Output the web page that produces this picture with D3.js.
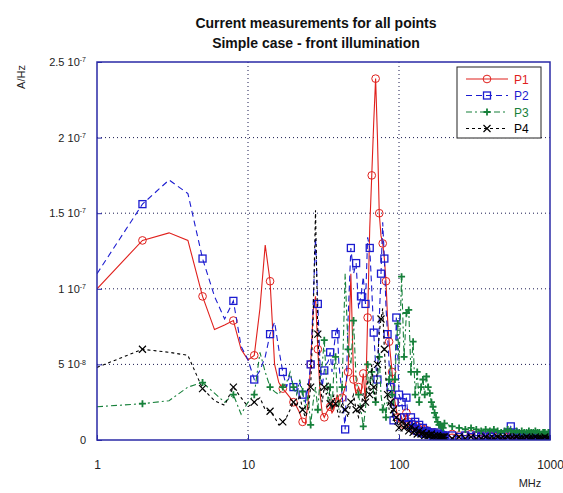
<!DOCTYPE html>
<html><head><meta charset="utf-8">
<script src="https://cdn.jsdelivr.net/npm/d3@7"></script>
<style>
html,body{margin:0;padding:0;background:#fff;}
svg text{font-family:Arial,"Liberation Sans",sans-serif;}
</style></head>
<body><svg id="c" width="563" height="493"></svg>
<script>
// Frequencies (MHz), shared by all series
const freq = [1,2,3,4,5,6,7,8,9,10,11,12,13,14,15,16,17,18,19,20,
  21,22,23,24,25,26,27,28,29,30,31,32,33,34,35,36,37,38,39,40,
  42,44,46,48,50,52,54,56,58,60,62,64,66,68,70,72,74,76,78,80,
  82,84,86,88,90,92,94,96,98,100,
  104,108,112,116,120,124,128,132,136,140,144,148,152,156,160,164,168,172,176,180,184,188,192,196,
  200,225,250,275,300,325,350,375,400,425,450,475,500,525,550,575,600,625,650,675,700,725,750,775,800,825,850,875,900,925,950,975,1000];

// Values in units of 1e-8 A/Hz
const p1 = [10.0,13.2,13.7,13.2,9.5,7.3,7.6,7.9,6.0,5.3,
  5.6,8.7,12.9,10.5,5.0,3.8,3.4,3.1,2.8,2.5,
  2.2,1.8,1.2,1.1,2.5,5.0,8.5,9.5,6.0,3.1,
  1.8,1.5,1.8,2.0,2.2,1.8,2.0,2.5,3.0,2.5,
  2.8,3.5,4.5,11.0,4.0,3.0,3.5,3.0,4.4,2.5,
  8.1,14.0,17.5,21.0,23.9,20.0,15.0,13.5,13.0,12.0,
  10.5,8.0,6.5,5.5,4.5,3.5,2.5,2.0,1.5,1.2,
  1.5,1.0,1.8,1.2,0.8,1.0,0.6,0.9,0.7,0.8,0.5,0.7,0.5,0.6,0.4,0.5,0.4,0.5,0.4,0.4,0.3,0.4,0.3,0.3,
  0.3,0.4,0.3,0.3,0.4,0.3,0.3,0.2,0.3,0.3,0.2,0.3,0.3,0.2,0.3,0.2,0.3,0.3,0.2,0.3,0.2,0.3,0.2,0.3,0.3,0.2,0.3,0.2,0.3,0.2,0.3,0.2,0.3];
const p2 = [11.0,15.6,17.2,16.3,12.0,9.5,8.0,9.2,6.2,5.3,
  4.0,4.6,5.5,7.0,7.8,6.0,4.5,3.5,4.4,3.5,
  3.0,3.8,3.0,2.5,3.5,5.0,9.0,13.4,9.0,5.0,
  3.5,4.6,5.0,5.2,5.8,4.5,6.0,7.0,7.5,5.0,
  3.0,0.7,8.0,12.7,11.0,11.7,8.7,9.5,10.8,9.0,
  13.4,12.7,10.0,7.1,5.0,4.0,8.0,11.0,14.4,12.0,
  8.8,7.0,5.0,3.5,2.0,1.3,4.0,8.1,6.0,3.0,
  2.5,1.5,2.8,1.0,1.5,0.8,1.2,0.6,1.0,0.5,0.8,0.4,0.6,0.5,0.4,0.5,0.3,0.4,0.3,0.5,0.3,0.4,0.3,0.3,
  0.3,0.3,0.2,0.3,0.2,0.3,0.2,0.3,0.2,0.3,0.3,0.2,0.3,0.5,0.9,0.5,0.3,0.2,0.3,0.2,0.3,0.2,0.2,0.3,0.2,0.2,0.3,0.2,0.2,0.3,0.2,0.2,0.3];
const p3 = [2.2,2.4,2.6,3.5,3.8,3.1,2.5,3.0,1.7,2.5,
  3.0,5.8,4.5,3.5,3.2,3.0,3.5,3.8,4.5,3.5,
  3.0,4.0,3.2,2.0,3.0,1.0,2.5,3.5,2.0,4.0,
  5.0,6.6,4.0,2.5,3.5,2.0,4.5,5.5,3.0,2.0,
  3.5,11.0,6.0,5.0,7.9,4.0,3.0,2.0,0.9,2.0,
  5.0,3.5,4.5,3.0,2.5,4.0,5.5,3.0,2.0,2.5,
  1.5,3.0,4.0,5.0,3.0,2.0,4.0,6.0,7.7,5.0,
  10.8,5.5,8.4,8.6,4.5,6.5,3.0,4.5,2.5,3.5,4.0,3.0,4.2,3.5,3.1,2.5,2.2,1.8,1.5,1.2,1.0,1.0,0.9,0.8,
  1.1,0.9,0.8,0.7,0.8,0.7,0.6,0.7,0.6,0.7,0.6,0.5,0.6,0.7,0.6,0.5,0.6,0.5,0.6,0.5,0.5,0.6,0.5,0.5,0.6,0.5,0.5,0.4,0.5,0.5,0.4,0.5,0.5];
const p4 = [4.8,6.0,5.8,5.6,3.4,2.6,2.3,3.5,2.8,2.2,
  2.5,2.8,2.0,1.9,1.5,1.0,1.2,1.5,2.0,2.5,
  2.2,3.0,2.0,1.5,2.0,3.5,8.0,15.2,7.0,3.8,
  2.5,3.5,3.0,3.8,2.4,2.0,3.0,2.4,2.0,1.5,
  2.5,2.0,1.5,2.5,3.0,2.0,1.5,2.1,3.1,2.5,
  4.0,3.0,5.0,3.5,2.5,5.0,7.1,8.0,8.7,6.0,
  4.0,3.0,2.0,2.5,1.5,2.0,1.0,1.5,1.0,0.8,
  1.2,0.8,1.0,0.6,0.9,0.5,0.7,0.4,0.6,0.4,0.5,0.3,0.4,0.3,0.3,0.4,0.2,0.3,0.2,0.3,0.2,0.2,0.2,0.2,
  0.2,0.1,0.2,0.1,0.2,0.1,0.1,0.2,0.1,0.1,0.2,0.1,0.1,0.2,0.1,0.1,0.2,0.1,0.1,0.1,0.2,0.1,0.1,0.1,0.2,0.1,0.1,0.1,0.1,0.2,0.1,0.1,0.1];

const seriesNames = ["P1","P2","P3","P4"];
const seriesValues = [p1,p2,p3,p4];
const xTicks = [1,10,100,1000];
const xTickLabels = ["1","10","100","1000"];
const yTicks = [0,5,10,15,20,25];
const yTickMantissa = ["0","5","1","1.5","2","2.5"];
const yTickExponent = ["","-8","-7","-7","-7","-7"];
const titleLines = ["Current measurements for all points","Simple case - front illumination"];

// styles
const colors = ["#e0201c","#1c1cd0","#16803a","#000000"];
const dashes = [null,"6,4","6,3,2,3","3,3"];
const markers = ["circle","square","plus","cross"];

const svg = d3.select("#c");
const L=97,R=550,T=62,B=440;
const x = d3.scaleLog().domain([1,1000]).range([L,R]);
const y = d3.scaleLinear().domain([0,25]).range([B,T]);
const frameColor = "#2a2aa6";

svg.append("rect").attr("width",563).attr("height",493).attr("fill","#fff");

// grid
const grid = svg.append("g");
grid.selectAll("line.gx").data(xTicks.slice(1,-1)).join("line")
  .attr("x1",d=>x(d)).attr("x2",d=>x(d)).attr("y1",T).attr("y2",B)
  .attr("stroke","#1a1a50").attr("stroke-width",1).attr("stroke-dasharray","1,3");
grid.selectAll("line.gy").data(yTicks.slice(1,-1)).join("line")
  .attr("y1",d=>y(d)).attr("y2",d=>y(d)).attr("x1",L).attr("x2",R)
  .attr("stroke","#1a1a50").attr("stroke-width",1).attr("stroke-dasharray","1,3");

svg.append("defs").append("clipPath").attr("id","clip").append("rect")
  .attr("x",L).attr("y",T).attr("width",R-L).attr("height",B-T);

function drawMarker(g, type, cx, cy, color, s){
  if(type==="circle"){
    g.append("circle").attr("cx",cx).attr("cy",cy).attr("r",s*0.55).attr("fill","none").attr("stroke",color).attr("stroke-width",1);
  } else if(type==="square"){
    g.append("rect").attr("x",cx-s/2).attr("y",cy-s/2).attr("width",s).attr("height",s).attr("fill","none").attr("stroke",color).attr("stroke-width",1.3);
  } else if(type==="plus"){
    g.append("path").attr("d",`M${cx-s/2},${cy}H${cx+s/2}M${cx},${cy-s/2}V${cy+s/2}`).attr("stroke",color).attr("stroke-width",1.8).attr("fill","none");
  } else {
    g.append("path").attr("d",`M${cx-s/2},${cy-s/2}L${cx+s/2},${cy+s/2}M${cx-s/2},${cy+s/2}L${cx+s/2},${cy-s/2}`).attr("stroke",color).attr("stroke-width",1.2).attr("fill","none");
  }
}

const plot = svg.append("g").attr("clip-path","url(#clip)");
const line = d3.line().x(d=>x(d[0])).y(d=>y(d[1]));
seriesValues.forEach((vals,k)=>{
  const pts = freq.map((f,i)=>[f,vals[i]]);
  const g = plot.append("g");
  g.append("path").attr("d",line(pts)).attr("fill","none")
    .attr("stroke",colors[k]).attr("stroke-width",1.1)
    .attr("stroke-dasharray",dashes[k]);
  pts.forEach((p,i)=>{
    const f=p[0];
    let show;
    if(f<=40) show = (i%3===1);
    else if(f<=100) show = ((i+k)%2===0);
    else show = true;
    if(show) drawMarker(g, markers[k], x(p[0]), y(p[1]), colors[k], 7);
  });
});

// axes
const yAxis = d3.axisLeft(y).tickValues(yTicks).tickSizeInner(-5).tickSizeOuter(0).tickPadding(11);
const gy = svg.append("g").attr("transform",`translate(${L},0)`).call(yAxis);
gy.selectAll(".tick line").attr("stroke",frameColor);
gy.select(".domain").attr("stroke","none");
gy.selectAll(".tick text").attr("font-size","11px").attr("fill","#222").each(function(d,i){
  const t=d3.select(this); t.text(null);
  t.append("tspan").text(yTickMantissa[i] + (yTickExponent[i] ? " 10" : ""));
  if(yTickExponent[i]) t.append("tspan").attr("dy","-0.55em").attr("font-size","7px").text(yTickExponent[i]);
});
const xAxis = d3.axisBottom(x).tickValues(xTicks).tickFormat((d,i)=>xTickLabels[i]).tickSizeInner(-5).tickSizeOuter(0).tickPadding(20);
const gx = svg.append("g").attr("transform",`translate(0,${B})`).call(xAxis);
gx.selectAll(".tick line").attr("stroke",frameColor);
gx.select(".domain").attr("stroke","none");
gx.selectAll(".tick text").attr("font-size","12px").attr("fill","#222");

// frame
svg.append("rect").attr("x",L).attr("y",T).attr("width",R-L).attr("height",B-T)
  .attr("fill","none").attr("stroke",frameColor).attr("stroke-width",1.5);

// titles
svg.selectAll("text.title").data(titleLines).join("text").attr("class","title")
  .attr("x",316).attr("y",(d,i)=>28+i*20).attr("text-anchor","middle")
  .attr("font-size","14px").attr("font-weight","bold").attr("fill","#111").text(d=>d);
svg.append("text").attr("transform","translate(25,77) rotate(-90)").attr("text-anchor","middle")
  .attr("font-size","11px").attr("fill","#222").text("A/Hz");
svg.append("text").attr("x",530).attr("y",487).attr("text-anchor","middle")
  .attr("font-size","11px").attr("fill","#222").text("MHz");

// legend
const lg = svg.append("g");
lg.append("rect").attr("x",457).attr("y",67).attr("width",84).attr("height",71)
  .attr("fill","#fff").attr("stroke","#222").attr("stroke-width",1);
seriesNames.forEach((n,k)=>{
  const ly = 79 + k*16.5;
  lg.append("line").attr("x1",466).attr("x2",508).attr("y1",ly).attr("y2",ly)
    .attr("stroke",colors[k]).attr("stroke-width",1.2).attr("stroke-dasharray",dashes[k]);
  drawMarker(lg, markers[k], 487, ly, colors[k], 7);
  lg.append("text").attr("x",514).attr("y",ly+4.5).attr("font-size","12px").attr("fill",colors[k]).text(n);
});
</script></body></html>
